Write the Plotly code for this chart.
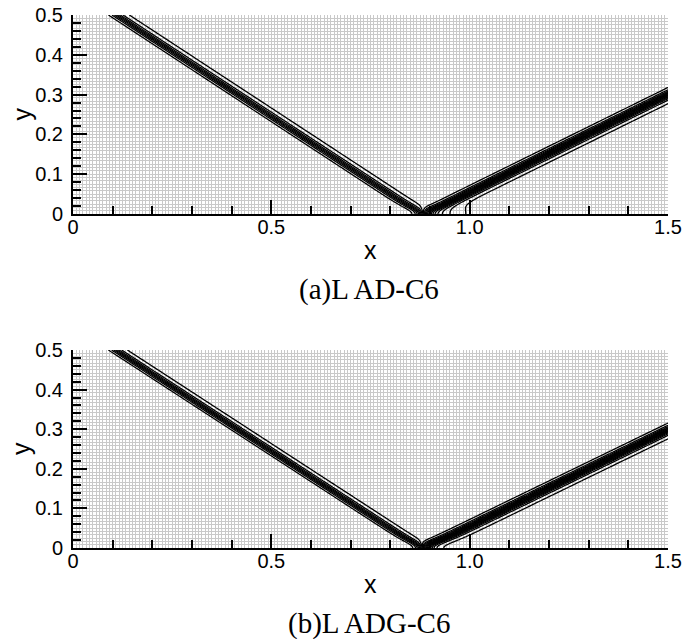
import numpy as np
import plotly.graph_objects as go

# ---------------- data ----------------
X_RANGE = [0.0, 1.5]
Y_RANGE = [0.0, 0.5]
X_TICKS = [0.0, 0.5, 1.0, 1.5]
X_TICK_TEXT = ["0", "0.5", "1.0", "1.5"]
Y_TICKS = [0.0, 0.1, 0.2, 0.3, 0.4, 0.5]
Y_TICK_TEXT = ["0", "0.1", "0.2", "0.3", "0.4", "0.5"]
MESH_SPACING = 1.0 / 120.0

CAPTIONS = ["(a)L AD-C6", "(b)L ADG-C6"]
# incident shock: x where it leaves the top (y=0.5) and where it meets the wall
INCIDENT_TOP_X = [0.110, 0.108]
INCIDENT_WALL_X = [0.876, 0.876]
# reflected shock: foot on the wall and height at right edge (x=1.5)
REFLECTED_WALL_X = [0.890, 0.888]
REFLECTED_RIGHT_Y = [0.300, 0.298]
INCIDENT_THICKNESS = [0.0105, 0.0095]
REFLECTED_THICKNESS = [0.0110, 0.0108]
# pressure of the three states and the contour levels
STATE_PRESSURE = [0.714, 1.528, 2.934]
LEVEL_START, LEVEL_END, LEVEL_STEP = 0.8, 2.9, 0.1
# low-pressure pocket behind the reflection point (panel a only)
WALL_POCKET = [0.26, 0.0]

# ---------------- field ----------------
xs = np.linspace(X_RANGE[0], X_RANGE[1], 601)
ys = np.linspace(Y_RANGE[0], Y_RANGE[1], 201)
XG, YG = np.meshgrid(xs, ys)


def pressure_field(i):
    eps = 0.014
    ye = YG * np.tanh(YG / eps)  # contours meet the wall at right angle
    # incident
    ax, ay = INCIDENT_TOP_X[i], Y_RANGE[1]
    bx, by = INCIDENT_WALL_X[i], 0.0
    n = np.hypot(ax - bx, ay - by)
    ux, uy = (ax - bx) / n, (ay - by) / n
    d1 = -(ux * (ye - by) - uy * (XG - bx))
    s1 = 0.5 * (1 + np.tanh(d1 / INCIDENT_THICKNESS[i]))
    # reflected
    cx, cy = REFLECTED_WALL_X[i], 0.0
    dx, dy = X_RANGE[1], REFLECTED_RIGHT_Y[i]
    n2 = np.hypot(dx - cx, dy - cy)
    vx, vy = (dx - cx) / n2, (dy - cy) / n2
    d2 = -(vx * (ye - cy) - vy * (XG - cx))
    s2 = 0.5 * (1 + np.tanh(d2 / REFLECTED_THICKNESS[i]))
    p1, p2, p3 = STATE_PRESSURE
    p = p1 + (p2 - p1) * s1 + (p3 - p2) * s1 * s2
    p -= WALL_POCKET[i] * np.exp(-((XG - cx) / 0.07) ** 2 - (YG / 0.045) ** 2) * s1 * s2
    return np.round(p, 4)


# ---------------- layout geometry ----------------
W, H = 684, 639
x_dom = [73 / W, 668 / W]
y_doms = [[1 - 214 / H, 1 - 15 / H], [1 - 548 / H, 1 - 350 / H]]
sans = "Liberation Sans, Arial, sans-serif"
tick_font = dict(family=sans, size=20, color="black")

fig = go.Figure()
layout = dict(
    width=W, height=H, margin=dict(l=0, r=0, t=0, b=0, pad=0), autosize=False,
    paper_bgcolor="white", plot_bgcolor="white", showlegend=False,
    annotations=[],
)

for i in range(2):
    gx = "x" if i == 0 else "x2"
    gy = "y" if i == 0 else "y2"
    tx = "x3" if i == 0 else "x4"
    ty = "y3" if i == 0 else "y4"
    kgx = "xaxis" if i == 0 else "xaxis2"
    kgy = "yaxis" if i == 0 else "yaxis2"
    ktx = "xaxis3" if i == 0 else "xaxis4"
    kty = "yaxis3" if i == 0 else "yaxis4"

    fig.add_trace(go.Contour(
        x=xs, y=ys, z=pressure_field(i),
        xaxis=gx, yaxis=gy,
        contours=dict(start=LEVEL_START, end=LEVEL_END, size=LEVEL_STEP, coloring="lines"),
        colorscale=[[0, "black"], [1, "black"]],
        line=dict(width=1.3, smoothing=0.6),
        showscale=False, hoverinfo="skip",
    ))
    fig.add_trace(go.Scatter(x=[], y=[], xaxis=tx, yaxis=ty, showlegend=False, hoverinfo="skip"))

    grid_common = dict(showgrid=True, gridcolor="#c9c9c9", gridwidth=1,
                       tickmode="linear", tick0=0, dtick=MESH_SPACING,
                       showticklabels=False, ticks="", showline=False, zeroline=False,
                       fixedrange=True, automargin=False)
    layout[kgx] = dict(domain=x_dom, anchor=gy, range=X_RANGE, **grid_common)
    layout[kgy] = dict(domain=y_doms[i], anchor=gx, range=Y_RANGE, **grid_common)

    layout[ktx] = dict(
        overlaying=gx, anchor=gy, side="bottom", range=X_RANGE,
        tickmode="array", tickvals=X_TICKS, ticktext=X_TICK_TEXT,
        ticks="inside", ticklen=14, tickwidth=1.5, tickcolor="black",
        minor=dict(ticks="inside", ticklen=8, tickwidth=1.5, tickcolor="black",
                   tickmode="linear", tick0=0, dtick=0.1, showgrid=False),
        showline=True, linecolor="black", linewidth=2, mirror=False, automargin=False,
        showgrid=False, zeroline=False, tickfont=tick_font, ticklabelstandoff=-6,
    )
    layout[kty] = dict(
        overlaying=gy, anchor=gx, side="left", range=Y_RANGE,
        tickmode="array", tickvals=Y_TICKS, ticktext=Y_TICK_TEXT,
        ticks="inside", ticklen=14, tickwidth=1.5, tickcolor="black",
        minor=dict(ticks="inside", ticklen=8, tickwidth=1.5, tickcolor="black",
                   tickmode="linear", tick0=0, dtick=0.02, showgrid=False),
        showline=True, linecolor="black", linewidth=2, mirror=False, automargin=False,
        showgrid=False, zeroline=False, tickfont=tick_font, ticklabelstandoff=4,
    )

    axis_y_px = 214 if i == 0 else 548
    center_y_px = (15 + 214) / 2 if i == 0 else (350 + 548) / 2
    layout["annotations"] += [
        dict(text="x", x=370.5 / W, y=1 - (axis_y_px + 36) / H, xref="paper", yref="paper",
             showarrow=False, xanchor="center", yanchor="middle",
             font=dict(family=sans, size=25, color="black")),
        dict(text="y", x=21 / W, y=1 - center_y_px / H, xref="paper", yref="paper",
             showarrow=False, xanchor="center", yanchor="middle", textangle=-90,
             font=dict(family=sans, size=25, color="black")),
        dict(text=CAPTIONS[i], x=369 / W, y=1 - (axis_y_px + 75) / H, xref="paper", yref="paper",
             showarrow=False, xanchor="center", yanchor="middle",
             font=dict(family="Liberation Serif, Times New Roman, serif", size=29, color="black")),
    ]

fig.update_layout(**layout)
fig.write_html(
    "out.html",
    post_script="document.documentElement.style.margin='0';document.body.style.margin='0';document.body.style.padding='0';",
)
